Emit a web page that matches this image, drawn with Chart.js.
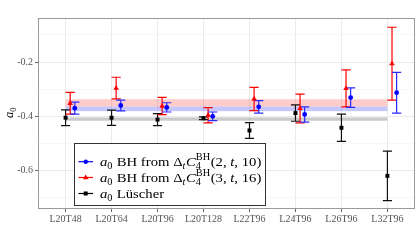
<!DOCTYPE html>
<html><head><meta charset="utf-8">
<script src="https://cdn.jsdelivr.net/npm/chart.js@4"></script>
<style>html,body{margin:0;padding:0;background:#fff}#c{display:block}</style>
</head><body>
<div style="width:420px;height:240px"><canvas id="c"></canvas></div>
<script>
const categories = ['L20T48','L20T64','L20T96','L20T128','L22T96','L24T96','L26T96','L32T96'];
const blueVals  = [-0.370,-0.360,-0.367,-0.400,-0.365,-0.393,-0.331,-0.313];
const blueErr   = [0.022,0.020,0.017,0.016,0.023,0.028,0.036,0.075];
const redVals   = [-0.352,-0.296,-0.362,-0.396,-0.336,-0.371,-0.297,-0.206];
const redErr    = [0.040,0.040,0.032,0.028,0.043,0.053,0.068,0.134];
const blackVals = [-0.405,-0.405,-0.412,-0.407,-0.452,-0.388,-0.442,-0.619];
const blackErr  = [0.029,0.028,0.022,0.005,0.029,0.030,0.050,0.091];
const redBand   = [-0.364,-0.337];
const blueBand  = [-0.381,-0.364];
const grayBand  = [-0.416,-0.404];
const yMajorTicks = [-0.2,-0.4,-0.6];
const yMinorTicks = [-0.1,-0.3,-0.5,-0.7];
const offsets = {blue:0.2, red:0.1, black:0};

const FONT = "'Liberation Serif', 'DejaVu Serif', serif";

function mk(vals, errs, off){
  return vals.map((v,i)=>({x:i+off, y:v, e:errs[i]}));
}

const datasets = [
  {label:'blue', data:mk(blueVals,blueErr,offsets.blue), pointStyle:'circle', pointRadius:2.4,
   backgroundColor:'#0000ff', borderColor:'#0000ff', borderWidth:0, order:1, errColor:'#2a2aff'},
  {label:'red', data:mk(redVals,redErr,offsets.red), pointStyle:'triangle', pointRadius:3.2,
   backgroundColor:'#ff0000', borderColor:'#ff0000', borderWidth:0, order:2, errColor:'#ff0000'},
  {label:'black', data:mk(blackVals,blackErr,offsets.black), pointStyle:'rect', pointRadius:2.8,
   backgroundColor:'#000', borderColor:'#000', borderWidth:0, order:3, errColor:'#111'}
];

const bandsPlugin = {
  id:'bands',
  beforeDatasetsDraw(chart){
    const {ctx, scales:{x,y}} = chart;
    const x0 = x.getPixelForValue(0), x1 = x.getPixelForValue(categories.length-1);
    const band = (b,col)=>{
      const ya = y.getPixelForValue(b[1]), yb = y.getPixelForValue(b[0]);
      ctx.fillStyle = col; ctx.fillRect(x0, ya, x1-x0, yb-ya);
    };
    ctx.save();
    band(grayBand,'rgba(150,150,150,0.5)');
    band(redBand,'rgba(255,0,0,0.2)');
    band(blueBand,'rgba(0,0,255,0.22)');
    const cap = 4.6;
    chart.data.datasets.slice().reverse().forEach(ds=>{
      ctx.strokeStyle = ds.errColor; ctx.lineWidth = 1.2;
      ds.data.forEach(p=>{
        const px = x.getPixelForValue(p.x);
        const yt = y.getPixelForValue(p.y + p.e), yb = y.getPixelForValue(p.y - p.e);
        ctx.beginPath();
        ctx.moveTo(px, yt); ctx.lineTo(px, yb);
        ctx.moveTo(px-cap, yt); ctx.lineTo(px+cap, yt);
        ctx.moveTo(px-cap, yb); ctx.lineTo(px+cap, yb);
        ctx.stroke();
      });
    });
    ctx.restore();
  }
};

function drawRich(ctx, x, y, parts, size){
  const sub = size*0.7;
  parts.forEach(p=>{
    if (p.t !== undefined){
      ctx.font = (p.i?'italic ':'') + size + 'px ' + FONT;
      ctx.fillText(p.t, x, y);
      x += ctx.measureText(p.t).width;
    } else {
      let w = 0;
      if (p.sup){
        ctx.font = sub + 'px ' + FONT;
        ctx.fillText(p.sup, x, y - size*0.42);
        w = Math.max(w, ctx.measureText(p.sup).width);
      }
      if (p.sub){
        ctx.font = (p.si?'italic ':'') + sub + 'px ' + FONT;
        ctx.fillText(p.sub, x, y + size*0.25);
        w = Math.max(w, ctx.measureText(p.sub).width);
      }
      x += w + 0.5;
    }
  });
  return x;
}

const legendRows = [
  {color:'#0000ff', shape:'circle', parts:[{t:'a',i:1},{sub:'0'},{t:' BH from Δ'},{sub:'t',si:1},{t:'C',i:1},{sup:'BH',sub:'4'},{t:'(2, '},{t:'t',i:1},{t:', 10)'}]},
  {color:'#ff0000', shape:'triangle', parts:[{t:'a',i:1},{sub:'0'},{t:' BH from Δ'},{sub:'t',si:1},{t:'C',i:1},{sup:'BH',sub:'4'},{t:'(3, '},{t:'t',i:1},{t:', 16)'}]},
  {color:'#000000', shape:'rect', parts:[{t:'a',i:1},{sub:'0'},{t:' Lüscher'}]}
];

const overlayPlugin = {
  id:'overlay',
  afterDraw(chart){
    const {ctx, chartArea:a} = chart;
    ctx.save();
    ctx.strokeStyle = '#9a9a9a'; ctx.lineWidth = 1;
    ctx.strokeRect(Math.round(a.left)+0.5, Math.round(a.top)+0.5, Math.round(a.right-a.left)-1, Math.round(a.bottom-a.top)-1);
    ctx.save();
    ctx.translate(13, 112);
    ctx.rotate(-Math.PI/2);
    ctx.fillStyle = '#000';
    ctx.textBaseline = 'alphabetic';
    drawRich(ctx, -6, 0, [{t:'a',i:1},{sub:'0'}], 12.5);
    ctx.restore();
    const lx = 74.5, ly = 143.5, lw = 191, lh = 62;
    ctx.fillStyle = '#fff'; ctx.fillRect(lx, ly, lw, lh);
    ctx.strokeStyle = '#333'; ctx.lineWidth = 1; ctx.strokeRect(lx, ly, lw, lh);
    const centers = [161.7, 177.5, 193.5];
    legendRows.forEach((r,k)=>{
      const cy = centers[k];
      ctx.strokeStyle = r.color; ctx.lineWidth = 1.2;
      ctx.beginPath(); ctx.moveTo(78.5, cy); ctx.lineTo(93, cy); ctx.stroke();
      ctx.fillStyle = r.color;
      ctx.beginPath();
      if (r.shape==='circle'){ ctx.arc(85.7, cy, 2.2, 0, Math.PI*2); }
      else if (r.shape==='triangle'){ ctx.moveTo(85.7, cy-3); ctx.lineTo(88.5, cy+1.8); ctx.lineTo(82.9, cy+1.8); ctx.closePath(); }
      else { ctx.rect(83.7, cy-2, 4, 4); }
      ctx.fill();
      ctx.fillStyle = '#000'; ctx.textBaseline = 'alphabetic';
      ctx.save();
      ctx.translate(100, cy+4.3);
      ctx.scale(1.09, 1);
      drawRich(ctx, 0, 0, r.parts, 13.5);
      ctx.restore();
    });
    ctx.restore();
  }
};

new Chart(document.getElementById('c'), {
  type:'scatter',
  data:{datasets},
  options:{
    responsive:true, maintainAspectRatio:false, animation:false,
    layout:{padding:{top:18, right:5, left:0, bottom:0}},
    plugins:{legend:{display:false}, tooltip:{enabled:false}},
    scales:{
      x:{
        type:'linear', min:-0.6, max:categories.length-1+0.6,
        afterBuildTicks(s){ s.ticks = categories.map((c,i)=>({value:i})); },
        afterFit(s){ s.height = 31; },
        border:{display:false},
        grid:{color:'#ebebeb', lineWidth:1, tickLength:3, tickColor:'#666', drawTicks:true},
        ticks:{autoSkip:false, maxRotation:0, padding:1, color:'#555',
          font:{family:FONT, size:10},
          callback(v){ return categories[v]; }}
      },
      y:{
        type:'linear', min:-0.741, max:-0.038,
        afterBuildTicks(s){ s.ticks = yMajorTicks.concat(yMinorTicks).sort((a,b)=>a-b).map(v=>({value:v})); },
        afterFit(s){ s.width = 38; },
        border:{display:false},
        grid:{
          color(c){ return yMajorTicks.some(t=>Math.abs(t-c.tick.value)<1e-9) ? '#ebebeb' : '#f6f6f6'; },
          tickColor(c){ return yMajorTicks.some(t=>Math.abs(t-c.tick.value)<1e-9) ? '#666' : 'rgba(0,0,0,0)'; },
          tickLength:3, drawTicks:true
        },
        ticks:{padding:2, color:'#555', font:{family:FONT, size:10},
          callback(v){ return yMajorTicks.some(t=>Math.abs(t-v)<1e-9) ? v.toFixed(1) : ''; }}
      }
    }
  },
  plugins:[bandsPlugin, overlayPlugin]
});
</script>
</body></html>
